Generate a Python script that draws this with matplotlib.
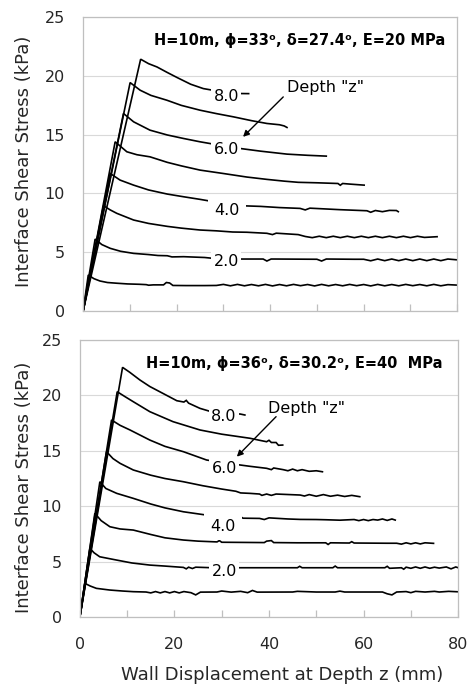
import matplotlib
matplotlib.use("Agg")
from matplotlib import pyplot as plt

# shear stress (kPa) vs wall displacement (mm), one list of (x, y) per depth 1..8 m
# top panel: phi=33, E=20 MPa
top_z1 = [(0, 0), (1.1, 3.06), (2.3, 2.75), (3.6, 2.55), (5.2, 2.42), (7.2, 2.36), (9.5, 2.3), (12, 2.27),
          (13.5, 2.24), (14, 2.19), (15, 2.22), (17.2, 2.22), (17.8, 2.42), (18.5, 2.38), (19.2, 2.17),
          (22, 2.16), (26, 2.16), (28.5, 2.17), (30, 2.26), (31.5, 2.14), (33, 2.26), (34.5, 2.14),
          (36, 2.25), (37.5, 2.14), (39, 2.26), (40.5, 2.13), (42, 2.25), (43.5, 2.14), (45, 2.26),
          (46.5, 2.15), (48, 2.25), (49.5, 2.13), (51, 2.26), (52.5, 2.14), (54, 2.25), (55.5, 2.14),
          (57, 2.26), (58.5, 2.15), (60, 2.25), (61.5, 2.13), (63, 2.26), (64.5, 2.14), (66, 2.25),
          (67.5, 2.14), (69, 2.26), (70.5, 2.15), (72, 2.25), (73.5, 2.14), (75, 2.26), (76.5, 2.14),
          (78, 2.24), (80, 2.2)]
top_z2 = [(0, 0), (2.57, 6.12), (4, 5.65), (5.8, 5.33), (8, 5.08), (10.8, 4.9), (14, 4.8), (16, 4.72),
          (18, 4.7), (19, 4.6), (21.5, 4.62), (26, 4.55), (28, 4.47), (33.6, 4.42), (38.5, 4.42),
          (39.3, 4.25), (40.2, 4.42), (41, 4.42), (50, 4.4), (51, 4.25), (52, 4.42), (58, 4.4), (60, 4.4),
          (61.5, 4.27), (63, 4.42), (64.5, 4.28), (66, 4.42), (67.5, 4.28), (69, 4.42), (70.5, 4.28),
          (72, 4.42), (73.5, 4.28), (75, 4.42), (76.5, 4.28), (78, 4.42), (80, 4.35)]
top_z3 = [(0, 0), (4.35, 8.96), (5.8, 8.6), (7.2, 8.31), (10.8, 7.74), (14, 7.45), (18, 7.2), (21, 7.05),
          (25, 6.89), (28.5, 6.82), (32, 6.72), (35, 6.7), (39.3, 6.61), (40.5, 6.5), (41.3, 6.62),
          (46, 6.5), (47.5, 6.34), (49, 6.24), (50.5, 6.36), (52, 6.24), (53.5, 6.36), (55, 6.24),
          (56.5, 6.36), (58, 6.24), (59.5, 6.36), (61, 6.24), (62.5, 6.36), (64, 6.24), (65.5, 6.36),
          (67, 6.24), (68.5, 6.36), (70, 6.24), (71.5, 6.36), (73, 6.26), (75.7, 6.32)]
top_z4 = [(0, 0), (5.78, 11.71), (7.9, 11.14), (10.8, 10.71), (14, 10.3), (18, 9.95), (21.5, 9.72),
          (25, 9.5), (27.9, 9.3), (30, 9.2), (33.6, 8.96), (38, 8.9), (42, 8.8), (46.4, 8.73),
          (47.5, 8.6), (48.5, 8.75), (55, 8.62), (60.7, 8.53), (61.5, 8.4), (62.5, 8.55), (64, 8.45),
          (65.5, 8.56), (67, 8.55), (67.4, 8.45)]
top_z5 = [(0, 0), (6.85, 14.4), (9.35, 13.55), (11.5, 13.3), (14.3, 13.12), (18, 12.65), (21, 12.35),
          (25, 11.99), (30, 11.7), (35, 11.4), (39.3, 11.2), (43, 11.05), (46, 10.95), (50, 10.91),
          (54.5, 10.85), (55, 10.7), (55.5, 10.85), (57, 10.8), (60.1, 10.71)]
top_z6 = [(0, 0), (8.63, 16.81), (10.8, 16.1), (14.3, 15.39), (18, 14.98), (21.5, 14.68), (25, 14.4),
          (27.9, 14.2), (30, 14.05), (33.6, 13.83), (38, 13.6), (43.6, 13.35), (48, 13.25), (52, 13.18)]
top_z7 = [(0, 0), (10.05, 19.44), (12.2, 18.79), (14.5, 18.35), (17.9, 17.94), (21, 17.5), (25, 17.09),
          (28.5, 16.8), (32.2, 16.52), (36, 16.2), (39.3, 15.96), (42, 15.85), (43, 15.75), (43.6, 15.62)]
top_z8 = [(0, 0), (12.3, 21.43), (14, 21.05), (15.8, 20.77), (18, 20.3), (20.1, 19.87), (23, 19.3),
          (25.7, 18.93), (29, 18.7), (33.2, 18.51), (35.4, 18.5)]

# bottom panel: phi=36, E=40 MPa
bot_z1 = [(0, 0), (1.06, 3.04), (2.2, 2.8), (3.5, 2.59), (6.3, 2.44), (9, 2.35), (11.3, 2.29), (14, 2.26),
          (15, 2.18), (16, 2.3), (17, 2.18), (18, 2.3), (19, 2.18), (20, 2.3), (21, 2.18), (22, 2.3),
          (23.5, 2.2), (24.5, 2.0), (25.5, 2.25), (29, 2.26), (30, 2.35), (32, 2.25), (34, 2.32),
          (35.5, 2.2), (36.5, 2.4), (37.5, 2.25), (45, 2.26), (46, 2.32), (50, 2.26), (54, 2.26),
          (55, 2.34), (56, 2.26), (64, 2.26), (65, 2.1), (66, 2.0), (67, 2.26), (69, 2.3), (70, 2.2),
          (71, 2.32), (73, 2.26), (75, 2.32), (76, 2.26), (78, 2.32), (80, 2.28)]
bot_z2 = [(0, 0), (2.12, 6.2), (3, 5.8), (4.2, 5.44), (7.8, 5.14), (11, 4.88), (14.8, 4.69), (18, 4.6),
          (21.9, 4.48), (22.5, 4.35), (23, 4.5), (23.8, 4.38), (24.5, 4.5), (28, 4.45), (33.5, 4.45),
          (40, 4.45), (46, 4.45), (46.5, 4.58), (47, 4.45), (53.5, 4.45), (54, 4.6), (54.5, 4.45),
          (64.5, 4.45), (65, 4.58), (65.5, 4.4), (68, 4.45), (68.5, 4.32), (69, 4.5), (70, 4.4),
          (71, 4.52), (72, 4.4), (73, 4.52), (74, 4.4), (75, 4.5), (76, 4.42), (77.5, 4.52),
          (78.5, 4.35), (79.5, 4.52), (80, 4.45)]
bot_z3 = [(0, 0), (3.17, 9.36), (4.5, 8.7), (6.35, 8.15), (8.5, 7.95), (11.3, 7.85), (15, 7.45), (18, 7.15),
          (21.9, 6.95), (25, 6.85), (29, 6.78), (29.5, 6.9), (30, 6.75), (39, 6.72), (39.5, 6.85),
          (40.5, 6.9), (41, 6.72), (46, 6.7), (52, 6.7), (52.5, 6.55), (53, 6.7), (57, 6.68), (57.5, 6.8),
          (58, 6.68), (65, 6.66), (67, 6.66), (68, 6.58), (69, 6.7), (70, 6.6), (71, 6.7), (72, 6.6),
          (73, 6.7), (74.8, 6.65)]
bot_z4 = [(0, 0), (4.23, 12.21), (5.5, 11.6), (7.8, 11.16), (11.3, 10.71), (15, 10.2), (18, 9.85),
          (21.9, 9.5), (26.8, 9.2), (33.5, 8.95), (33.8, 9.1), (34.5, 8.92), (38, 8.9), (39, 8.8),
          (40, 8.95), (44, 8.85), (46.6, 8.81), (50, 8.8), (52, 8.78), (55, 8.74), (58, 8.8), (59, 8.7),
          (60, 8.8), (61, 8.7), (62, 8.8), (63, 8.75), (64, 8.85), (65, 8.72), (66, 8.85), (66.7, 8.75)]
bot_z5 = [(0, 0), (5.64, 14.92), (7, 14.3), (8.5, 13.87), (11.3, 13.27), (15, 12.8), (18, 12.5),
          (21.9, 12.21), (26, 11.85), (30, 11.55), (33, 11.35), (34, 11.2), (36, 11.16), (38, 11.1),
          (38.5, 10.98), (39.5, 11.1), (40.5, 10.98), (41.5, 11.1), (46.6, 11.01), (47.5, 10.92),
          (48.5, 11.05), (50, 10.9), (51.5, 11.05), (53, 10.9), (54.5, 11.0), (56, 10.88), (57.5, 10.98),
          (59.2, 10.86)]
bot_z6 = [(0, 0), (6.7, 17.78), (8.5, 17.3), (10.6, 16.88), (14.8, 15.97), (18, 15.4), (21.9, 14.92),
          (26.8, 14.17), (30, 13.95), (33.9, 13.72), (36, 13.6), (39.5, 13.42), (40.5, 13.3), (41, 13.45),
          (43, 13.3), (44, 13.2), (45, 13.35), (46, 13.2), (47, 13.3), (48.5, 13.15), (50, 13.2),
          (51.3, 13.11)]
bot_z7 = [(0, 0), (7.9, 20.33), (9.5, 19.9), (11.3, 19.43), (14.8, 18.53), (19.7, 17.63), (25.4, 16.88),
          (30, 16.5), (36, 16.13), (38, 15.95), (39.5, 15.82), (40, 15.95), (40.5, 15.75), (41.5, 15.75),
          (42, 15.5), (42.9, 15.52)]
bot_z8 = [(0, 0), (9.03, 22.53), (10.5, 22.1), (12.7, 21.39), (14.8, 20.8), (16.9, 20.33), (20.5, 19.52),
          (22, 19.4), (22.5, 19.55), (23, 19.3), (25.4, 18.83), (28, 18.5), (30, 18.35), (33.9, 18.32),
          (34.9, 18.23)]

top_curves = [top_z1, top_z2, top_z3, top_z4, top_z5, top_z6, top_z7, top_z8]
bot_curves = [bot_z1, bot_z2, bot_z3, bot_z4, bot_z5, bot_z6, bot_z7, bot_z8]

depth_labels = ["2.0", "4.0", "6.0", "8.0"]
top_label_pos = [(30.6, 4.25), (30.7, 8.59), (30.6, 13.75), (30.6, 18.22)]
bot_label_pos = [(30.5, 4.09), (30.2, 8.15), (30.5, 13.42), (30.5, 18.14)]
label_pads = [1.5, 4.5, 1.5, 1.5]

top_title = "H=10m, \u03d5=33\u1d52, \u03b4=27.4\u1d52, E=20 MPa"
bot_title = "H=10m, \u03d5=36\u1d52, \u03b4=30.2\u1d52, E=40  MPa"

GRAY = "#bfbfbf"
TXT = "#262626"

fig = plt.figure(figsize=(4.67, 6.91), dpi=100)
ax_top = fig.add_axes([0.178, 0.550, 0.801, 0.425])
ax_bot = fig.add_axes([0.171, 0.107, 0.810, 0.401])


def draw_panel(ax, curves, lab_pos, title, title_xy, depth_xy, arrow_from, arrow_to, bottom):
    for pts in curves:
        xs, ys = zip(*pts)
        ax.plot(xs, ys, color="black", lw=1.2, solid_joinstyle="miter")

    for lab, (lx, ly), pd in zip(depth_labels, lab_pos, label_pads):
        ax.text(lx, ly, lab, fontsize=11.5, ha="center", va="center", color="black",
                bbox=dict(facecolor="white", edgecolor="none", pad=pd))

    ax.text(title_xy[0], title_xy[1], title, fontsize=10.5, fontweight="bold",
            ha="right", va="center", color="black")
    ax.text(depth_xy[0], depth_xy[1], 'Depth "z"', fontsize=11.5, ha="left", va="center")
    ax.annotate("", xy=arrow_to, xytext=arrow_from,
                arrowprops=dict(arrowstyle="-|>", color="black", lw=1.0,
                                mutation_scale=9, shrinkA=0, shrinkB=0))

    ax.set_xlim(0, 80)
    ax.set_ylim(0, 25)
    ax.set_yticks(range(0, 26, 5))
    ax.set_xticks(range(0, 81, 10))
    ax.grid(axis="y", color="#d9d9d9", lw=0.8)
    ax.set_axisbelow(True)
    for sp in ax.spines.values():
        sp.set_color(GRAY)
        sp.set_linewidth(0.9)
    ax.tick_params(axis="y", length=0, pad=13, labelsize=11.5, labelcolor=TXT)
    ax.tick_params(axis="x", direction="in", length=5, color=GRAY, width=0.9,
                   pad=14, labelsize=11.5, labelcolor=TXT)
    if bottom:
        ax.set_xticklabels([str(v) if v % 20 == 0 else "" for v in range(0, 81, 10)])
        ax.set_xlabel("Wall Displacement at Depth z (mm)", fontsize=13, color=TXT)
        ax.xaxis.set_label_coords(0.536, -0.175)
    else:
        ax.set_xticklabels([])
    ax.set_ylabel("Interface Shear Stress (kPa)", fontsize=13, color=TXT)


draw_panel(ax_top, top_curves, top_label_pos, top_title, (77.4, 23.0), (43.6, 19.05),
           (42.8, 18.22), (34.2, 14.82), bottom=False)
draw_panel(ax_bot, bot_curves, bot_label_pos, bot_title, (76.8, 22.9), (39.8, 18.83),
           (41.5, 18.08), (33.2, 14.47), bottom=True)

ax_top.yaxis.set_label_coords(-0.134, 0.51)
ax_bot.yaxis.set_label_coords(-0.124, 0.47)

fig.savefig("out.png", dpi=100)
